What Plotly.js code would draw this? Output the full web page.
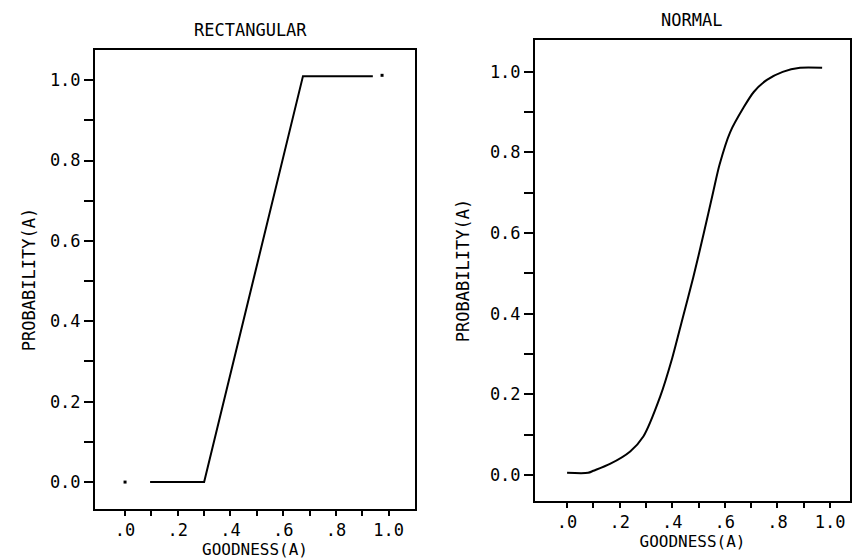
<!DOCTYPE html>
<html>
<head>
<meta charset="utf-8">
<script src="https://cdn.plot.ly/plotly-3.0.1.min.js"></script>
<style>html,body{margin:0;padding:0;background:#fff;}#chart{width:853px;height:559px;}</style>
</head>
<body>
<div id="chart"></div>
<script>
// Rectangular panel
const rectGoodness = [0.095, 0.30, 0.675, 0.94];
const rectProb     = [0.0,   0.0,  1.01,  1.01];
const rectDotsX = [0.0, 0.975];
const rectDotsY = [0.0, 1.012];

// Normal panel
const normGoodness = [0.0, 0.08, 0.10, 0.163, 0.24, 0.29, 0.354, 0.40, 0.44, 0.48, 0.52, 0.555, 0.58, 0.62, 0.67, 0.71, 0.76, 0.82, 0.886, 0.97];
const normProb     = [0.005, 0.005, 0.01, 0.027, 0.058, 0.095, 0.194, 0.29, 0.39, 0.49, 0.60, 0.70, 0.77, 0.85, 0.91, 0.95, 0.98, 1.0, 1.01, 1.01];

// Tick labels
const yTickVals = [0, 0.1, 0.2, 0.3, 0.4, 0.5, 0.6, 0.7, 0.8, 0.9, 1.0];
const yTickText = ["0.0", "", "0.2", "", "0.4", "", "0.6", "", "0.8", "", "1.0"];
const xTickVals = [0, 0.1, 0.2, 0.3, 0.4, 0.5, 0.6, 0.7, 0.8, 0.9, 1.0];
const xTickText = [".0", "", ".2", "", ".4", "", ".6", "", ".8", "", "1.0"];

const titles = ["RECTANGULAR", "NORMAL"];
const xTitle = "GOODNESS(A)";
const yTitle = "PROBABILITY(A)";

const FONT = {family: "DejaVu Sans Mono", size: 17, color: "#000"};
const XT_FONT = {family: "DejaVu Sans Mono", size: 16, color: "#000"};

const traces = [
  {x: rectGoodness, y: rectProb, xaxis: "x", yaxis: "y", mode: "lines",
   line: {color: "#000", width: 2}, hoverinfo: "skip"},
  {x: rectDotsX, y: rectDotsY, xaxis: "x", yaxis: "y", mode: "markers",
   marker: {color: "#000", size: 3, symbol: "square"}, hoverinfo: "skip"},
  {x: normGoodness, y: normProb, xaxis: "x2", yaxis: "y2", mode: "lines",
   line: {color: "#000", width: 2, shape: "spline", smoothing: 0.8}, hoverinfo: "skip"}
];

function xa(domain, range, standoff) {
  return {domain: domain, range: range, showline: true, mirror: true, linecolor: "#000", linewidth: 2,
    ticks: "outside", ticklen: 5, tickwidth: 2, tickcolor: "#000",
    tickmode: "array", tickvals: xTickVals, ticktext: xTickText,
    showgrid: false, zeroline: false, tickfont: FONT,
    title: {text: xTitle, font: XT_FONT, standoff: standoff}};
}
function ya(domain, range, anchor, standoff) {
  return {domain: domain, range: range, anchor: anchor, showline: true, mirror: true, linecolor: "#000", linewidth: 2,
    ticks: "outside", ticklen: 9, tickwidth: 2, tickcolor: "#000",
    tickmode: "array", tickvals: yTickVals, ticktext: yTickText,
    showgrid: false, zeroline: false, tickfont: FONT,
    title: {text: yTitle, font: FONT, standoff: standoff}};
}

const xa1 = xa([95/853, 415/853], [-0.114, 1.10], 7); xa1.anchor = "y";
const ya1 = ya([1 - 509/559, 1 - 50/559], [-0.067, 1.075], "x", 10);
const xa2 = xa([535/853, 850/853], [-0.122, 1.076], 4); xa2.anchor = "y2";
const ya2 = ya([1 - 501/559, 1 - 40/559], [-0.065, 1.079], "x2", 16);

const layout = {
  width: 853, height: 559,
  margin: {l: 0, r: 0, t: 0, b: 0},
  paper_bgcolor: "#fff", plot_bgcolor: "#fff",
  showlegend: false,
  font: FONT,
  xaxis: xa1, yaxis: ya1, xaxis2: xa2, yaxis2: ya2,
  annotations: [
    {text: titles[0], xref: "paper", yref: "paper", x: 250/853, y: 1 - 30/559, showarrow: false, font: FONT, xanchor: "center", yanchor: "middle"},
    {text: titles[1], xref: "paper", yref: "paper", x: 691/853, y: 1 - 20/559, showarrow: false, font: FONT, xanchor: "center", yanchor: "middle"}
  ]
};

Plotly.newPlot("chart", traces, layout, {displayModeBar: false, staticPlot: true});
</script>
</body>
</html>
